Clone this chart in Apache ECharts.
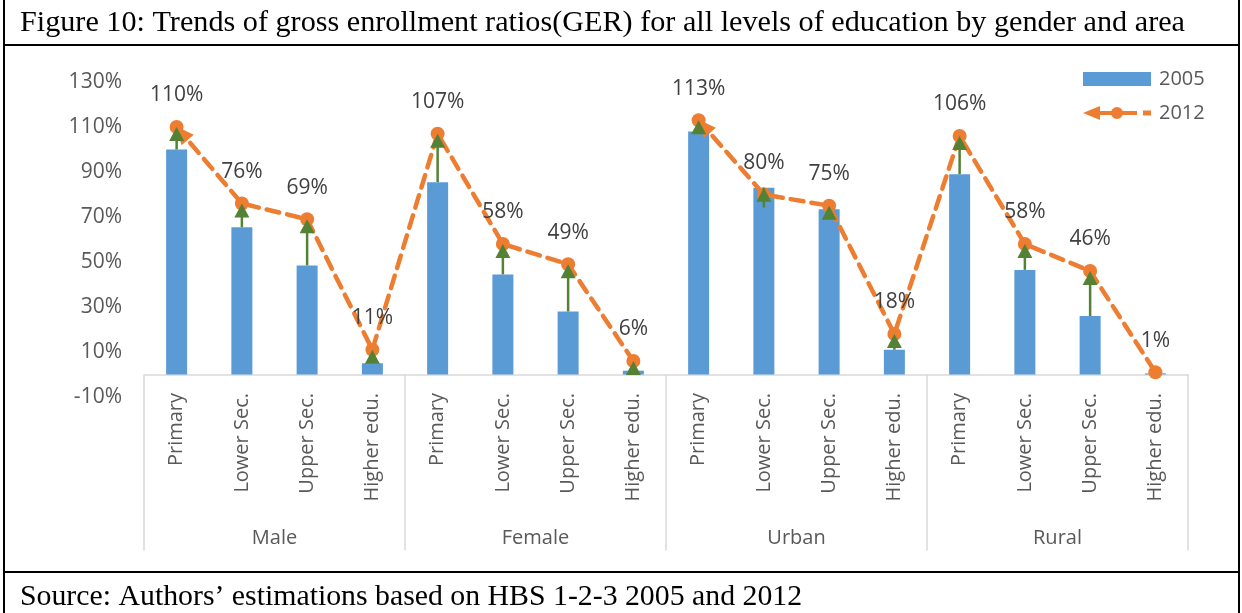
<!DOCTYPE html>
<html>
<head>
<meta charset="utf-8">
<script src="https://cdn.jsdelivr.net/npm/echarts@6/dist/echarts.min.js"></script>
<style>
  html, body { margin: 0; padding: 0; background: #fff; }
  #chart { width: 1242px; height: 613px; }
</style>
</head>
<body>
<div id="chart"></div>
<script>
// ---- data ----
const levels = ['Primary', 'Lower Sec.', 'Upper Sec.', 'Higher edu.'];
const groups = ['Male', 'Female', 'Urban', 'Rural'];
const categories = groups.flatMap(() => levels);
const ger2005 = [100, 65.5, 48.5, 5, 85.5, 44.5, 28, 1.7, 108, 83, 73.5, 11, 89, 46.5, 26, 0.5];
const ger2012 = [110, 76, 69, 11, 107, 58, 49, 6, 113, 80, 75, 18, 106, 58, 46, 1];
const yTickValues = [-10, 10, 30, 50, 70, 90, 110, 130];
const titleText = 'Figure 10: Trends of gross enrollment ratios(GER) for all levels of education by gender and area';
const sourceText = 'Source: Authors\u2019 estimations based on HBS 1-2-3 2005 and 2012';
// 2012 line is drawn in two pieces: gender (Male, Female) and area (Urban, Rural)
const lineSegments = [['Male', 'Female'], ['Urban', 'Rural']];

const ORANGE = '#ED7D31', BLUE = '#5B9BD5', GREEN = '#548235';
const FONT = 'Open Sans';

const segIdx = lineSegments.map(seg => {
  const idx = [];
  seg.forEach(g => { const gi = groups.indexOf(g); levels.forEach((_, j) => idx.push(gi * levels.length + j)); });
  return idx;
});

const lineSeries = segIdx.map(idx => ({
  name: '2012',
  type: 'line',
  z: 3,
  data: ger2012.map((v, i) => idx.includes(i) ? v : '-'),
  symbol: 'circle',
  symbolSize: 14,
  itemStyle: { color: ORANGE },
  lineStyle: { color: ORANGE, width: 4.5, type: [13, 8], cap: 'round' },
  label: {
    show: true, position: 'top', distance: 14,
    formatter: p => Math.round(p.value) + '%',
    fontFamily: FONT, fontSize: 21, color: '#404040'
  },
  emphasis: { disabled: true },
  animation: false
}));

const arrowSeries = {
  name: 'start-arrow',
  type: 'custom',
  z: 4,
  data: segIdx.map(idx => [idx[0], ger2012[idx[0]], idx[1], ger2012[idx[1]]]),
  encode: { x: 0, y: 1 },
  renderItem: (params, api) => {
    const p0 = api.coord([api.value(0), api.value(1)]);
    const p1 = api.coord([api.value(2), api.value(3)]);
    let dx = p0[0] - p1[0], dy = p0[1] - p1[1];
    const L = Math.hypot(dx, dy); dx /= L; dy /= L;
    const tip = [p0[0] + dx * 1, p0[1] + dy * 1];
    const base = [tip[0] - dx * 18, tip[1] - dy * 18];
    const nx = -dy, ny = dx, hw = 8;
    return {
      type: 'polygon',
      shape: { points: [tip, [base[0] + nx * hw, base[1] + ny * hw], [base[0] - nx * hw, base[1] - ny * hw]] },
      style: { fill: ORANGE }
    };
  },
  animation: false
};

const greenSeries = {
  name: 'change',
  type: 'custom',
  z: 5,
  data: ger2005.map((v, i) => [i, v, ger2012[i]]),
  encode: { x: 0, y: [1, 2] },
  renderItem: (params, api) => {
    const i = api.value(0);
    const v0 = api.value(1), v1 = api.value(2);
    if (Math.abs(v1 - v0) < 1) return null;
    const a = api.coord([i, v0]);
    const b = api.coord([i, v1]);
    const top = Math.min(a[1], b[1]);
    const x = a[0], w = 7.5, h = 14;
    return {
      type: 'group',
      children: [
        { type: 'line', shape: { x1: x, y1: a[1], x2: x, y2: b[1] + h - 1 }, style: { stroke: GREEN, lineWidth: 2.5 } },
        { type: 'polygon', shape: { points: [[x, top], [x - w, top + h], [x + w, top + h]] }, style: { fill: GREEN } }
      ]
    };
  },
  animation: false
};

const legendLineIcon = 'path://M0 7L17 0L17 14Z M17 5L28.5 5L28.5 9L17 9Z M28 7A6 6 0 1 1 40 7A6 6 0 1 1 28 7Z M39.5 5L54 5L54 9L39.5 9Z M60 4.5L68 4.5L68 9.5L60 9.5Z M0 0L0.01 0L0.01 0.01Z M68 14L67.99 14L67.99 13.99Z';

const chart = echarts.init(document.getElementById('chart'), null, { renderer: 'canvas' });
chart.setOption({
  animation: false,
  backgroundColor: '#fff',
  textStyle: { fontFamily: FONT },
  grid: { left: 144, right: 54, top: 82, bottom: 216, containLabel: false },
  legend: {
    orient: 'vertical', left: 1078, top: 64,
    itemWidth: 68, itemHeight: 14, itemGap: 14,
    textStyle: { fontFamily: FONT, fontSize: 20, color: '#595959', padding: [0, 0, 0, 3] },
    data: [{ name: '2005', icon: 'rect' }, { name: '2012', icon: legendLineIcon }],
    selectedMode: false
  },
  xAxis: [
    {
      type: 'category', data: categories, position: 'bottom',
      axisLine: { onZero: true, lineStyle: { color: '#D9D9D9', width: 1.5 } },
      axisTick: { show: true, interval: (i) => i % levels.length === 0, length: 176, lineStyle: { color: '#D9D9D9', width: 1.5 } },
      axisLabel: { rotate: 90, interval: 0, margin: -4, fontFamily: FONT, fontSize: 20, color: '#595959' }
    },
    {
      type: 'category', data: groups, position: 'bottom',
      axisLine: { show: false, onZero: false },
      axisTick: { show: false },
      axisLabel: { interval: 0, margin: 131, fontFamily: FONT, fontSize: 20, color: '#595959' }
    }
  ],
  yAxis: {
    type: 'value', min: -10, max: 130, interval: 10,
    axisLine: { show: false }, axisTick: { show: false }, splitLine: { show: false },
    axisLabel: {
      margin: 22, fontFamily: FONT, fontSize: 21, color: '#595959',
      formatter: v => yTickValues.includes(v) ? v + '%' : ''
    }
  },
  series: [
    {
      name: '2005', type: 'bar', data: ger2005, barWidth: 21, z: 2,
      itemStyle: { color: BLUE }, emphasis: { disabled: true }, animation: false
    },
    ...lineSeries,
    arrowSeries,
    greenSeries
  ],
  graphic: [
    { type: 'line', shape: { x1: 4, y1: 0, x2: 4, y2: 613 }, style: { stroke: '#000', lineWidth: 2 } },
    { type: 'line', shape: { x1: 1239, y1: 0, x2: 1239, y2: 613 }, style: { stroke: '#000', lineWidth: 2 } },
    { type: 'line', shape: { x1: 4, y1: 45, x2: 1239, y2: 45 }, style: { stroke: '#000', lineWidth: 2 } },
    { type: 'line', shape: { x1: 4, y1: 572, x2: 1239, y2: 572 }, style: { stroke: '#000', lineWidth: 2 } },
    { type: 'text', left: 20, top: 8, style: { text: titleText, font: '30.2px "Liberation Serif"', fill: '#000' } },
    { type: 'text', left: 20, top: 582, style: { text: sourceText, font: '29.8px "Liberation Serif"', fill: '#000' } }
  ]
});
</script>
</body>
</html>
